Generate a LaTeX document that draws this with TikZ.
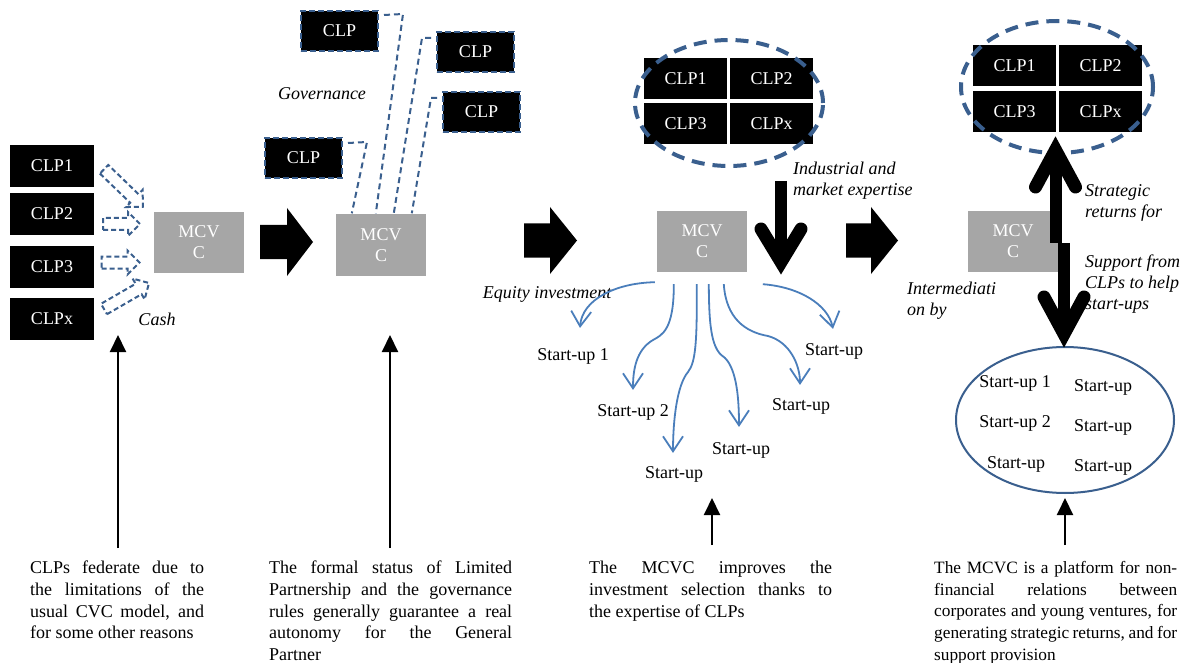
\documentclass[tikz,border=0pt]{standalone}
\usepackage{fontspec}
\setmainfont{Liberation Serif}
\usetikzlibrary{arrows.meta,calc,shapes.geometric}
\definecolor{dblue}{HTML}{3A5F8E}
\definecolor{lblue}{HTML}{4A7EBB}
\definecolor{mgray}{HTML}{A6A6A6}
% block arrow: #1 style, #2 centre, #3 angle, #4 length, #5 body width, #6 head width, #7 head length
\newcommand{\blockarr}[7]{%
  \begin{scope}[shift={#2},rotate=#3]
    \draw[#1] ({-#4/2},{#5/2}) -- ({#4/2-#7},{#5/2}) -- ({#4/2-#7},{#6/2}) -- ({#4/2},0)
      -- ({#4/2-#7},{-#6/2}) -- ({#4/2-#7},{-#5/2}) -- ({-#4/2},{-#5/2}) -- cycle;
  \end{scope}}
\newcommand{\parsetup}{\tolerance=10000\relax\hyphenpenalty=10000\relax}
\begin{document}
\begin{tikzpicture}[x=1pt,y=-1pt,
  font=\fontsize{18}{21.7}\selectfont,
  clp/.style={fill=black,text=white,minimum width=83pt,minimum height=41pt,inner sep=0pt},
  dclp/.style={clp,draw=dblue,line width=2pt,dash pattern=on 6pt off 3pt,minimum width=77pt,minimum height=40pt},
  mcvc/.style={fill=mgray,text=white,minimum width=90pt,minimum height=61pt,inner sep=0pt,align=center,font=\fontsize{18}{21}\selectfont},
  lbl/.style={inner sep=0pt},
  itl/.style={inner sep=0pt,align=left,font=\fontsize{18}{21}\selectfont\itshape},
  para/.style={inner sep=0pt,anchor=north west,align=justify,text width=#1},
  pfont/.style={font=\fontsize{#1}{21.7}\selectfont},
  gov/.style={dblue,line width=2pt,dash pattern=on 6pt off 4pt},
  cashar/.style={draw=dblue,line width=2pt,dash pattern=on 5pt off 3pt,line join=miter},
  blk/.style={fill=black,draw=none},
  dell/.style={ellipse,draw=dblue,line width=4pt,dash pattern=on 13pt off 8pt,inner sep=0pt},
  sell/.style={ellipse,draw=dblue,line width=2pt,inner sep=0pt},
  curve/.style={lblue,line width=1.8pt,-{Straight Barb[length=15pt,width=20pt]}},
  shaft/.style={line width=12pt},
  thkv/.style={line width=13pt,line cap=round,line join=miter},
  ptr/.style={line width=2pt,-{Triangle[width=16pt,length=17pt]}}
]
\fill[white] (0,0) rectangle (1202,663);
\useasboundingbox (0,0) rectangle (1202,663);

% ---------- panel 1
\node[clp,minimum width=84pt,minimum height=42pt] (a1) at (52,166) {CLP1};
\node[clp,minimum width=84pt,minimum height=42pt] (a2) at (52,214) {CLP2};
\node[clp,minimum width=84pt,minimum height=42pt] (a3) at (52,267) {CLP3};
\node[clp,minimum width=84pt,minimum height=42pt] (a4) at (52,318.5) {CLPx};
\node[mcvc] (m1) at (199,242.5) {MCV\\C};
\blockarr{cashar}{(123.5,188)}{-44}{54}{12}{24}{12}
\blockarr{cashar}{(121.5,224)}{0}{37}{12}{24}{12}
\blockarr{cashar}{(120.5,262.5)}{0}{38}{12}{24}{12}
\blockarr{cashar}{(126.5,296)}{30}{52}{12}{24}{12}
\node[itl] (cash) at (157,319) {Cash};
\blockarr{blk}{(286.5,242)}{0}{53}{34}{68}{26}

% ---------- panel 2
\node[dclp] (b1) at (339.5,31) {CLP};
\node[dclp] (b2) at (475.5,52) {CLP};
\node[dclp] (b3) at (481.5,112) {CLP};
\node[dclp] (b4) at (303.5,158) {CLP};
\node[mcvc] (m2) at (381,245) {MCV\\C};
\draw[gov] ($(b1.north east)+(5,5)$) -- ++(19,-1) -- ($(m2.north west)+(40,-1)$);
\draw[gov] ($(b2.north west)+(-5,7)$) -- ++(-9,0) -- ($(m2.north west)+(58,-1)$);
\draw[gov] ($(b3.north west)+(-5,7)$) -- ++(-6,0) -- ($(m2.north west)+(76,-1)$);
\draw[gov] ($(b4.north east)+(5,6)$) -- ++(19,-1) -- ($(m2.north west)+(16,-1)$);
\node[itl] (govl) at (322,94) {Governance};
\blockarr{blk}{(550.5,240.5)}{0}{53}{34}{67}{27}

% ---------- panel 3
\node[clp] (c1) at (685.5,79) {CLP1};
\node[clp] (c2) at (771.5,79) {CLP2};
\node[clp] (c3) at (685.5,124) {CLP3};
\node[clp] (c4) at (771.5,124) {CLPx};
\node[dell,minimum width=188pt,minimum height=126pt] (e3) at (729,103) {};
\node[mcvc] (m3) at (702,241.5) {MCV\\C};
\node[itl,anchor=west] (ind) at (793,181) {Industrial and\\market expertise};
\coordinate (d3top) at (781,181);
\coordinate (d3tip) at (781,262);
\draw[shaft] (d3top) -- (d3tip);
\draw[thkv] ($(d3tip)+(-20,-33)$) -- (d3tip) -- ($(d3tip)+(20,-33)$);
\node[itl] (eq) at (547,294) {Equity investment};
\node[lbl] (s1) at (573,356) {Start-up 1};
\node[lbl] (s2) at (633,412) {Start-up 2};
\node[lbl] (s3) at (674,474) {Start-up};
\node[lbl] (s4) at (741,450) {Start-up};
\node[lbl] (s5) at (801,406) {Start-up};
\node[lbl] (s6) at (834,351) {Start-up};
\draw[curve] ($(m3.south west)+(-2,10)$) .. controls (615,283) and (582,300) .. ($(s1.north)+(7,-20)$);
\draw[curve] ($(m3.south west)+(17,12)$) .. controls (674,330) and (662,335) .. (653,340)
  .. controls (636,350) and (633,370) .. ($(s2.north)+(0,-14)$);
\draw[curve] ($(m3.south west)+(40,12)$) .. controls (697,340) and (696,362) .. (688,372)
  .. controls (677,385) and (673,420) .. ($(s3.north)+(-1,-13)$);
\draw[curve] ($(m3.south west)+(52,12)$) .. controls (709,330) and (712,350) .. (725,358)
  .. controls (737,370) and (739,400) .. ($(s4.north)+(-2,-15)$);
\draw[curve] ($(m3.south west)+(67,12)$) .. controls (726,318) and (745,332) .. (768,336)
  .. controls (790,342) and (800,365) .. ($(s5.north)+(-1,-13)$);
\draw[curve] ($(m3.south west)+(106,12)$) .. controls (800,287) and (828,305) .. ($(s6.north)+(-1,-14)$);
\blockarr{blk}{(872,240.5)}{0}{52}{34}{67}{27}

% ---------- panel 4
\node[clp] (d1) at (1014.5,66) {CLP1};
\node[clp] (d2) at (1100.5,66) {CLP2};
\node[clp] (d3) at (1014.5,111.5) {CLP3};
\node[clp] (d4) at (1100.5,111.5) {CLPx};
\node[dell,minimum width=192pt,minimum height=132pt] (e4) at (1057,87) {};
\node[mcvc] (m4) at (1013,241.5) {MCV\\C};
\node[itl,anchor=west] (strat) at (1085,203) {Strategic\\returns for};
\node[itl,anchor=west] (supp) at (1085,284) {Support from\\CLPs to help\\start-ups};
\node[itl,anchor=west] (inter) at (907,300.5) {Intermediati\\on by};
\node[sell,minimum width=218pt,minimum height=146pt] (e5) at (1065,420) {};
\node[lbl] (u1) at (1015,383) {Start-up 1};
\node[lbl] (u2) at (1015,423) {Start-up 2};
\node[lbl] (u3) at (1016,464) {Start-up};
\node[lbl] (u4) at (1103,387) {Start-up};
\node[lbl] (u5) at (1103,427) {Start-up};
\node[lbl] (u6) at (1103,467) {Start-up};
\coordinate (uptip) at (1055.5,150);
\coordinate (mid1) at (1055.5,243);
\coordinate (mid2) at (1064,243);
\coordinate (dntip) at (1064,334);
\draw[shaft] (uptip) -- (mid1);
\draw[thkv] ($(uptip)+(-20,37)$) -- (uptip) -- ($(uptip)+(20,37)$);
\draw[shaft] (mid2) -- (dntip);
\draw[thkv] ($(dntip)+(-20,-37)$) -- (dntip) -- ($(dntip)+(20,-37)$);

% ---------- bottom texts
\node[para=174pt,pfont=18] (t1) at (30,561) {\parsetup CLPs federate due to\linebreak the limitations of the\linebreak usual CVC model, and\linebreak for some other reasons};
\node[para=243pt,pfont=18] (t2) at (269,561) {\parsetup The formal status of Limited\linebreak Partnership and the governance\linebreak rules generally guarantee a real\linebreak autonomy for the General\linebreak Partner};
\node[para=243pt,pfont=18] (t3) at (589,561) {\parsetup The MCVC improves the\linebreak investment selection thanks to\linebreak the expertise of CLPs};
\node[para=243pt,pfont=17.3] (t4) at (934,561) {\parsetup The MCVC is a platform for non-\linebreak financial relations between\linebreak corporates and young ventures, for\linebreak generating strategic returns, and for\linebreak support provision};
\coordinate (q1) at (118,335);
\coordinate (q2) at (390,335);
\coordinate (q3) at (712,498);
\coordinate (q4) at (1065,498);
\draw[ptr] ($(t1.north west)+(88,-13)$) -- (q1);
\draw[ptr] ($(t2.north west)+(121,-13)$) -- (q2);
\draw[ptr] ($(t3.north west)+(123,-16)$) -- (q3);
\draw[ptr] ($(t4.north west)+(131,-16)$) -- (q4);
\end{tikzpicture}
\end{document}
